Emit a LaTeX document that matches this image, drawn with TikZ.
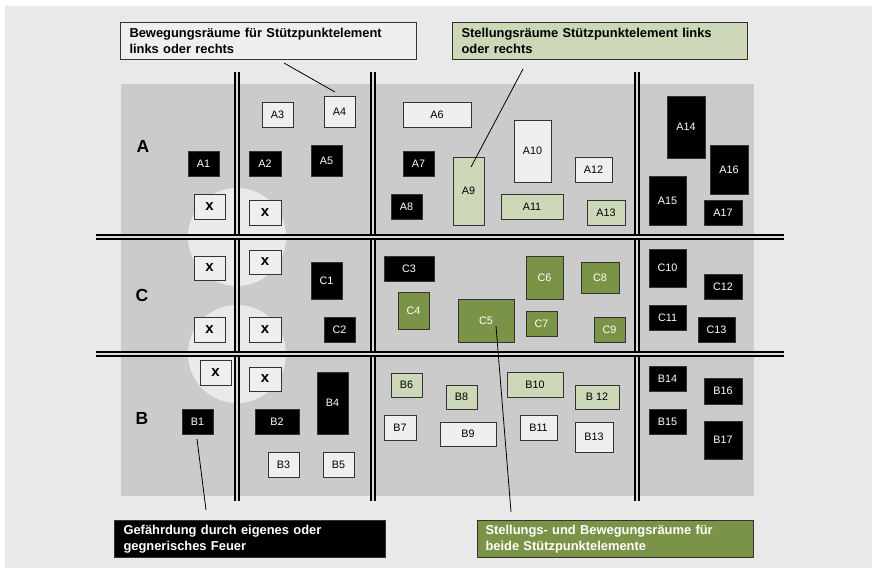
\documentclass[tikz,border=0pt]{standalone}
\usepackage{fontspec}
\setmainfont{Liberation Sans}
\usepackage{tikz}
\definecolor{bgcol}{HTML}{E8E9E8}
\definecolor{panelcol}{HTML}{CACBCA}
\definecolor{spotcol}{HTML}{E9EAE9}
\definecolor{oliv}{HTML}{7B9346}
\definecolor{lightoliv}{HTML}{CCD8B8}
\definecolor{boxwhite}{HTML}{EEEFEE}
\definecolor{gapcol}{HTML}{D9DAD9}
\pgfmathsetmacro{\gridlw}{2.3}
\pgfmathsetmacro{\spotr}{49}

\tikzset{
  feld/.style={draw=black!80, line width=1pt, inner sep=0pt,
    font=\fontsize{10.8}{12}\selectfont},
  darkbox/.style={feld, fill=black, text=white},
  whitebox/.style={feld, fill=boxwhite},
  lightbox/.style={feld, fill=lightoliv},
  olivebox/.style={feld, fill=oliv, text=white},
  xbox/.style={whitebox, font=\fontsize{15}{16}\bfseries},
  rowlabel/.style={font=\fontsize{17.5}{20}\bfseries},
  note/.style={draw=black!80, line width=1pt, anchor=north west,
    inner xsep=9pt, inner ysep=0pt, minimum height=37, align=left,
    font=\fontsize{12.9}{15.5}\bfseries},
  gridline/.style={line width=\gridlw pt, double=gapcol,
    double distance=\gridlw pt},
  leader/.style={line width=0.8pt},
}

\begin{document}
\begin{tikzpicture}[x=1pt, y=-1pt]
    \useasboundingbox (0,0) rectangle (872,568);
    % ground and field
    \fill[bgcol] (5,6) rectangle (872,568);
    \fill[panelcol] (121,84) rectangle (754,496);
    % crossing spots
    \fill[spotcol] (237,237) circle[radius=\spotr];
    \fill[spotcol] (237,354) circle[radius=\spotr];
    % grid of lanes
    \draw[gridline] (237,72) -- (237,501);
    \draw[gridline] (373,72) -- (373,501);
    \draw[gridline] (637,72) -- (637,501);
    \draw[gridline] (96,237) -- (784,237);
    \draw[gridline] (96,354) -- (784,354);
    % row labels
    \node[rowlabel] (row_a) at (143,146) {A};
    \node[rowlabel] (row_c) at (142,295) {C};
    \node[rowlabel] (row_b) at (142,418) {B};
    % row A
    \node[whitebox, minimum width=31, minimum height=25] (a3) at (277.5,114.5) {A3};
    \node[whitebox, minimum width=31, minimum height=31] (a4) at (339.5,111.5) {A4};
    \node[whitebox, minimum width=68, minimum height=25] (a6) at (437,114.5) {A6};
    \node[darkbox, minimum width=31, minimum height=25] (a1) at (203.5,163.5) {A1};
    \node[darkbox, minimum width=32, minimum height=25] (a2) at (265,163.5) {A2};
    \node[darkbox, minimum width=31, minimum height=31] (a5) at (326.5,160.5) {A5};
    \node[darkbox, minimum width=31, minimum height=25] (a7) at (418.5,163.5) {A7};
    \node[darkbox, minimum width=31, minimum height=25] (a8) at (406.5,206.5) {A8};
    \node[xbox, minimum width=31, minimum height=25] (x_a1) at (209.5,206.5) {x};
    \node[xbox, minimum width=32, minimum height=25] (x_a2) at (265,212.5) {x};
    \node[lightbox, minimum width=31, minimum height=68] (a9) at (468.5,191) {A9};
    \node[whitebox, minimum width=37, minimum height=62] (a10) at (532.5,151) {A10};
    \node[lightbox, minimum width=62, minimum height=25] (a11) at (532,206.5) {A11};
    \node[whitebox, minimum width=37, minimum height=25] (a12) at (593.5,169.5) {A12};
    \node[lightbox, minimum width=38, minimum height=25] (a13) at (606,212.5) {A13};
    \node[darkbox, minimum width=38, minimum height=62] (a14) at (686,127) {A14};
    \node[darkbox, minimum width=37, minimum height=49] (a15) at (667.5,200.5) {A15};
    \node[darkbox, minimum width=38, minimum height=49] (a16) at (729,169.5) {A16};
    \node[darkbox, minimum width=38, minimum height=25] (a17) at (723,212.5) {A17};
    % row C
    \node[xbox, minimum width=31, minimum height=24] (x_c1) at (209.5,268) {x};
    \node[xbox, minimum width=32, minimum height=24] (x_c2) at (265,262) {x};
    \node[xbox, minimum width=31, minimum height=25] (x_c3) at (209.5,329.5) {x};
    \node[xbox, minimum width=32, minimum height=25] (x_c4) at (265,329.5) {x};
    \node[darkbox, minimum width=31, minimum height=37] (c1) at (326.5,280.5) {C1};
    \node[darkbox, minimum width=31, minimum height=25] (c2) at (339.5,329.5) {C2};
    \node[darkbox, minimum width=50, minimum height=25] (c3) at (409,268.5) {C3};
    \node[olivebox, minimum width=31, minimum height=37] (c4) at (413.5,310.5) {C4};
    \node[olivebox, minimum width=56, minimum height=43] (c5) at (486,320.5) {C5};
    \node[olivebox, minimum width=37, minimum height=43] (c6) at (544.5,277.5) {C6};
    \node[olivebox, minimum width=31, minimum height=25] (c7) at (541.5,323.5) {C7};
    \node[olivebox, minimum width=38, minimum height=31] (c8) at (600,277.5) {C8};
    \node[olivebox, minimum width=31, minimum height=25] (c9) at (609.5,329.5) {C9};
    \node[darkbox, minimum width=37, minimum height=38] (c10) at (667.5,268) {C10};
    \node[darkbox, minimum width=37, minimum height=25] (c11) at (667.5,317.5) {C11};
    \node[darkbox, minimum width=38, minimum height=25] (c12) at (723,286.5) {C12};
    \node[darkbox, minimum width=37, minimum height=25] (c13) at (716.5,329.5) {C13};
    % row B
    \node[xbox, minimum width=31, minimum height=25] (x_b1) at (215.5,372.5) {x};
    \node[xbox, minimum width=32, minimum height=24] (x_b2) at (265,379) {x};
    \node[darkbox, minimum width=31, minimum height=25] (b1) at (197.5,421.5) {B1};
    \node[darkbox, minimum width=44, minimum height=25] (b2) at (277,421.5) {B2};
    \node[darkbox, minimum width=31, minimum height=62] (b4) at (332.5,403) {B4};
    \node[whitebox, minimum width=31, minimum height=25] (b3) at (283.5,464.5) {B3};
    \node[whitebox, minimum width=31, minimum height=25] (b5) at (338.5,464.5) {B5};
    \node[lightbox, minimum width=31, minimum height=24] (b6) at (406.5,385) {B6};
    \node[whitebox, minimum width=32, minimum height=25] (b7) at (400,427.5) {B7};
    \node[lightbox, minimum width=31, minimum height=24] (b8) at (461.5,397) {B8};
    \node[whitebox, minimum width=56, minimum height=24] (b9) at (468,434) {B9};
    \node[lightbox, minimum width=56, minimum height=25] (b10) at (535,384.5) {B10};
    \node[whitebox, minimum width=37, minimum height=25] (b11) at (538.5,427.5) {B11};
    \node[lightbox, minimum width=44, minimum height=24] (b12) at (597,397) {B 12};
    \node[whitebox, minimum width=38, minimum height=30] (b13) at (594,437) {B13};
    \node[darkbox, minimum width=37, minimum height=25] (b14) at (667.5,378.5) {B14};
    \node[darkbox, minimum width=37, minimum height=25] (b15) at (667.5,421.5) {B15};
    \node[darkbox, minimum width=38, minimum height=26] (b16) at (723,391) {B16};
    \node[darkbox, minimum width=38, minimum height=38] (b17) at (723,440) {B17};
    % notes
    \node[note, fill=boxwhite, text width=278] (note_move) at (120,22)
        {Bewegungsräume für Stützpunktelement\\links oder rechts};
    \node[note, fill=lightoliv, text width=277] (note_pos) at (452,22)
        {Stellungsräume Stützpunktelement links\\oder rechts};
    \node[note, fill=black, text=white, text width=253] (note_fire) at (114,520)
        {Gefährdung durch eigenes oder\\gegnerisches Feuer};
    \node[note, fill=oliv, text=white, inner xsep=8pt, text width=260] (note_both) at (477,520)
        {Stellungs- und Bewegungsräume für\\beide Stützpunktelemente};
    % leader lines
    \coordinate (lead_move) at (284,63);
    \coordinate (lead_pos) at (523,69);
    \coordinate (lead_fire) at (206,510);
    \coordinate (lead_both) at (511,512);
    \coordinate (tip_a4) at (335,92);
    \coordinate (tip_a9) at (471,167);
    \coordinate (tip_b1) at (197,439);
    \coordinate (tip_c5) at (496,326);
    \draw[leader] (lead_move) -- (tip_a4);
    \draw[leader] (lead_pos) -- (tip_a9);
    \draw[leader] (tip_b1) -- (lead_fire);
    \draw[leader] (tip_c5) -- (lead_both);
\end{tikzpicture}
\end{document}
